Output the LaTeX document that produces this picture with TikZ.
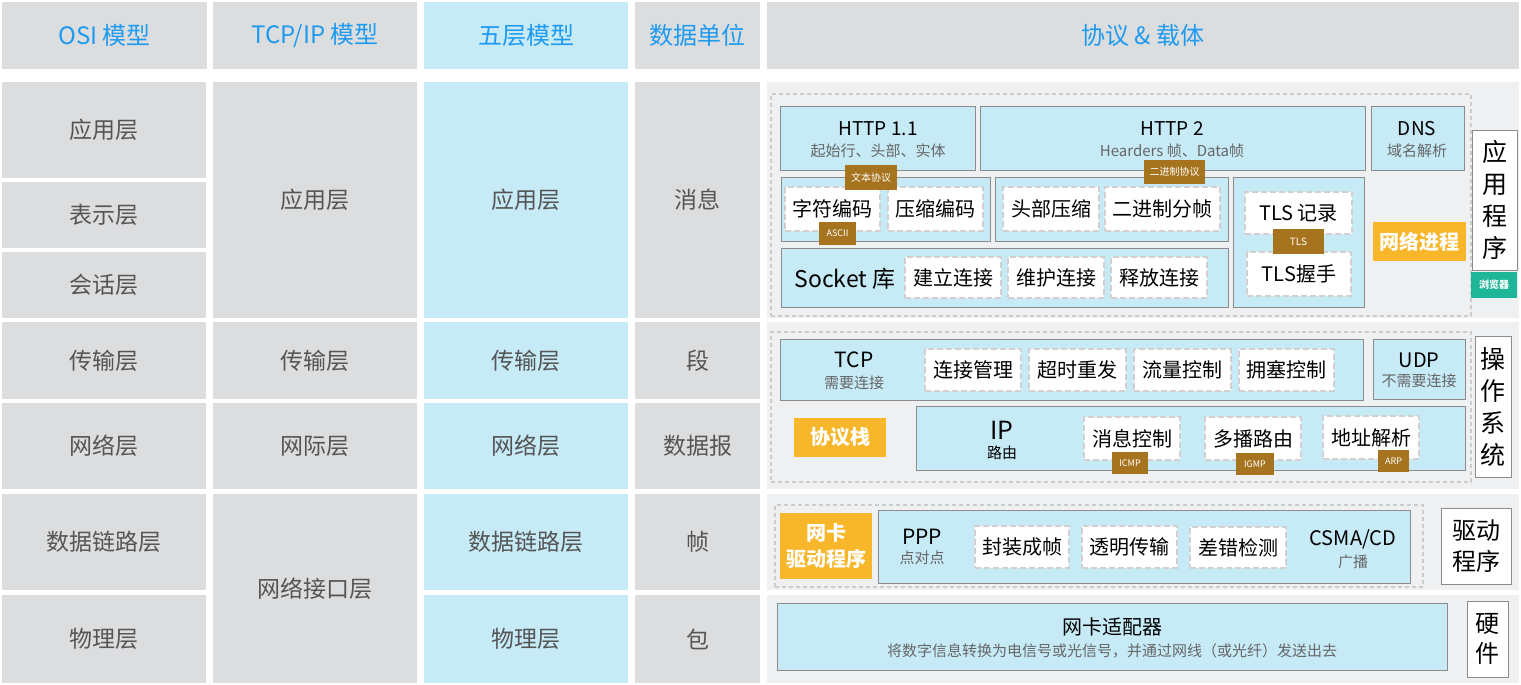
\documentclass[tikz,border=0pt]{standalone}
\usepackage{fontspec}
\setmainfont{Noto Sans CJK SC}
\definecolor{cellgray}{HTML}{DCDDDF}
\definecolor{lblue}{HTML}{C6EAF6}
\definecolor{panelc}{HTML}{EFF0F2}
\definecolor{bordc}{HTML}{8C8C8C}
\definecolor{hblue}{HTML}{1E9BEF}
\definecolor{celltxt}{HTML}{555555}
\definecolor{subtxt}{HTML}{666666}
\definecolor{tagc}{HTML}{A6741F}
\definecolor{orngc}{HTML}{F8B62B}
\definecolor{grnc}{HTML}{1DB698}
\definecolor{dashc}{HTML}{D3CFCF}
\definecolor{odashc}{HTML}{CCCCCC}
\newcommand\fsz[2]{\fontsize{#1}{#2}\selectfont}
\newcommand\bx[7]{\node[#1, minimum width={#5-#3}, minimum height={#6-#4}] (#2) at ({(#3+#5)/2},{(#4+#6)/2}) {#7};}
\tikzset{
  cellst/.style={fill=cellgray, draw=none, inner sep=0, text=celltxt, font=\fsz{23}{28}},
  bcellst/.style={cellst, fill=lblue},
  headst/.style={cellst, text=hblue, font=\fsz{24}{28}},
  secst/.style={fill=panelc, draw=none, inner sep=0},
  pboxst/.style={fill=lblue, draw=bordc, line width=1pt, inner sep=0},
  itemst/.style={fill=white, draw=dashc, line width=2.5pt, dash pattern=on 6pt off 3pt, inner sep=0, font=\fsz{20}{24}, text=black},
  odashst/.style={draw=odashc, line width=1.2pt, dash pattern=on 4pt off 3pt, inner sep=0},
  tagst/.style={fill=tagc, text=white, inner sep=0, font=\fsz{10}{12}},
  oboxst/.style={fill=orngc, text=white, inner sep=0, font=\bfseries\fsz{20}{26}, align=center},
  vboxst/.style={fill=white, draw=bordc, line width=1pt, inner sep=0, font=\fsz{25}{32}, align=center},
  ttlst/.style={inner sep=0, font=\fsz{19}{22}},
  subst/.style={inner sep=0, font=\fsz{15}{18}, text=subtxt}
}
\begin{document}
\begin{tikzpicture}[x=1pt,y=-1pt]
\useasboundingbox[fill=white] (0,0) rectangle (1521,685);
% header
\bx{headst}{h1}{2}{2}{207}{69}{OSI 模型}
\bx{headst}{h2}{213}{2}{417}{69}{TCP/IP 模型}
\bx{headst,fill=lblue}{h3}{424}{2}{628}{69}{五层模型}
\bx{headst}{h4}{635}{2}{760}{69}{数据单位}
\bx{headst}{h5}{767}{2}{1519}{69}{协议 \& 载体}
% OSI column
\bx{cellst}{o1}{2}{82}{206}{178}{应用层}
\bx{cellst}{o2}{2}{182}{206}{248}{表示层}
\bx{cellst}{o3}{2}{252}{206}{318}{会话层}
\bx{cellst}{o4}{2}{322}{206}{399}{传输层}
\bx{cellst}{o5}{2}{403}{206}{489}{网络层}
\bx{cellst}{o6}{2}{494}{206}{590}{数据链路层}
\bx{cellst}{o7}{2}{595}{206}{683}{物理层}
% TCP/IP column
\bx{cellst}{t1}{213}{82}{417}{318}{应用层}
\bx{cellst}{t2}{213}{322}{417}{399}{传输层}
\bx{cellst}{t3}{213}{403}{417}{489}{网际层}
\bx{cellst}{t4}{213}{494}{417}{683}{网络接口层}
% five layer column
\bx{bcellst}{f1}{424}{82}{628}{318}{应用层}
\bx{bcellst}{f2}{424}{322}{628}{399}{传输层}
\bx{bcellst}{f3}{424}{403}{628}{489}{网络层}
\bx{bcellst}{f4}{424}{494}{628}{590}{数据链路层}
\bx{bcellst}{f5}{424}{595}{628}{683}{物理层}
% data unit column
\bx{cellst}{d1}{635}{82}{760}{318}{消息}
\bx{cellst}{d2}{635}{322}{760}{399}{段}
\bx{cellst}{d3}{635}{403}{760}{489}{数据报}
\bx{cellst}{d4}{635}{494}{760}{590}{帧}
\bx{cellst}{d5}{635}{595}{760}{683}{包}
% right sections
\bx{secst}{sapp}{767}{82}{1519}{318}{}
\bx{secst}{sos}{767}{322}{1519}{489}{}
\bx{secst}{sdrv}{767}{494}{1519}{590}{}
\bx{secst}{shw}{767}{595}{1519}{683}{}
% ===== application section
\bx{odashst}{dapp}{771}{94}{1471}{316}{}
\bx{pboxst}{http1}{780}{106}{975}{170}{}
\bx{pboxst}{http2}{980}{106}{1365}{170}{}
\bx{pboxst}{dns}{1371}{106}{1464}{170}{}
\bx{pboxst}{enc}{781}{177}{990}{241}{}
\bx{pboxst}{frm}{995}{177}{1228}{241}{}
\bx{pboxst}{tls}{1233}{177}{1364}{307}{}
\bx{pboxst}{sock}{781}{248}{1228}{307}{}
\node[ttlst] (http1t) at (878,129) {HTTP 1.1};
\node[subst] (http1s) at (878,151) {起始行、头部、实体};
\node[ttlst] (http2t) at (1172,129) {HTTP 2};
\node[subst] (http2s) at (1172,151) {Hearders 帧、Data帧};
\node[ttlst] (dnst) at (1417,129) {DNS};
\node[subst] (dnss) at (1417,151) {域名解析};
\node[inner sep=0, font=\fsz{23}{26}] (sockt) at (845,279) {Socket 库};
\bx{itemst}{i1}{785}{187}{880}{231}{字符编码}
\bx{itemst}{i2}{888}{187}{983}{231}{压缩编码}
\bx{itemst}{i3}{1003}{187}{1099}{231}{头部压缩}
\bx{itemst}{i4}{1105}{187}{1220}{231}{二进制分帧}
\bx{itemst}{i5}{905}{257}{1001}{298}{建立连接}
\bx{itemst}{i6}{1008}{257}{1104}{298}{维护连接}
\bx{itemst}{i7}{1111}{257}{1207}{298}{释放连接}
\bx{itemst}{i8}{1245}{192}{1352}{234}{TLS 记录}
\bx{itemst}{i9}{1247}{252}{1351}{296}{TLS握手}
\bx{tagst}{g1}{845}{165}{897}{190}{文本协议}
\bx{tagst,font=\fsz{9}{11}}{g2}{819}{222}{856}{245}{ASCII}
\bx{tagst}{g3}{1144}{160}{1205}{184}{二进制协议}
\bx{tagst}{g4}{1273}{229}{1324}{254}{TLS}
\bx{oboxst}{proc}{1373}{222}{1466}{261}{网络进程}
\bx{vboxst}{appv}{1472}{130}{1517}{270}{应\\用\\程\\序}
\bx{tagst,fill=grnc,font=\bfseries\fsz{10}{12}}{brw}{1471}{272}{1517}{298}{浏览器}
% ===== OS section
\bx{odashst}{dos}{771}{332}{1471}{482}{}
\bx{pboxst}{tcp}{780}{339}{1363}{400}{}
\bx{pboxst}{udp}{1373}{339}{1465}{399}{}
\bx{pboxst}{ip}{916}{406}{1465}{470}{}
\node[ttlst, font=\fsz{21}{24}] (tcpt) at (854,360) {TCP};
\node[subst] (tcps) at (854,383) {需要连接};
\node[ttlst, font=\fsz{20}{24}] (udpt) at (1419,360) {UDP};
\node[subst] (udps) at (1419,381) {不需要连接};
\node[ttlst, font=\fsz{25}{28}] (ipt) at (1002,430) {IP};
\node[subst, text=black] (ips) at (1002,453) {路由};
\bx{itemst}{j1}{925}{349}{1021}{391}{连接管理}
\bx{itemst}{j2}{1029}{349}{1126}{391}{超时重发}
\bx{itemst}{j3}{1134}{349}{1231}{391}{流量控制}
\bx{itemst}{j4}{1239}{349}{1334}{391}{拥塞控制}
\bx{itemst}{j5}{1084}{417}{1180}{460}{消息控制}
\bx{itemst}{j6}{1205}{417}{1301}{460}{多播路由}
\bx{itemst}{j7}{1323}{416}{1419}{459}{地址解析}
\bx{tagst,font=\fsz{9}{11}}{k1}{1112}{452}{1148}{474}{ICMP}
\bx{tagst,font=\fsz{9}{11}}{k2}{1236}{453}{1274}{475}{IGMP}
\bx{tagst,font=\fsz{9}{11}}{k3}{1378}{450}{1409}{472}{ARP}
\bx{oboxst}{stack}{794}{418}{886}{457}{协议栈}
\bx{vboxst}{osv}{1475}{336}{1511}{477}{操\\作\\系\\统}
% ===== driver section
\bx{odashst}{ddrv}{775}{505}{1423}{587}{}
\bx{oboxst}{nic}{780}{513}{872}{579}{网卡\\驱动程序}
\bx{pboxst}{ppp}{878}{510}{1410}{583}{}
\node[ttlst, font=\fsz{21}{24}] (pppt) at (922,537) {PPP};
\node[subst] (ppps) at (922,558) {点对点};
\node[ttlst, font=\fsz{20}{24}] (csmat) at (1353,539) {CSMA/CD};
\node[subst] (csmas) at (1353,562) {广播};
\bx{itemst}{m1}{975}{526}{1069}{568}{封装成帧}
\bx{itemst}{m2}{1082}{526}{1177}{568}{透明传输}
\bx{itemst}{m3}{1190}{527}{1286}{568}{差错检测}
\bx{vboxst,font=\fsz{24}{31}}{drvv}{1441}{508}{1511}{584}{驱动\\程序}
% ===== hardware section
\bx{pboxst}{adp}{777}{603}{1447}{670}{}
\node[ttlst, font=\fsz{20}{24}] (adpt) at (1112,627) {网卡适配器};
\node[subst] (adps) at (1112,651) {将数字信息转换为电信号或光信号，并通过网线（或光纤）发送出去};
\bx{vboxst,font=\fsz{24}{30}}{hwv}{1467}{601}{1508}{677}{硬\\件}
\end{tikzpicture}
\end{document}
